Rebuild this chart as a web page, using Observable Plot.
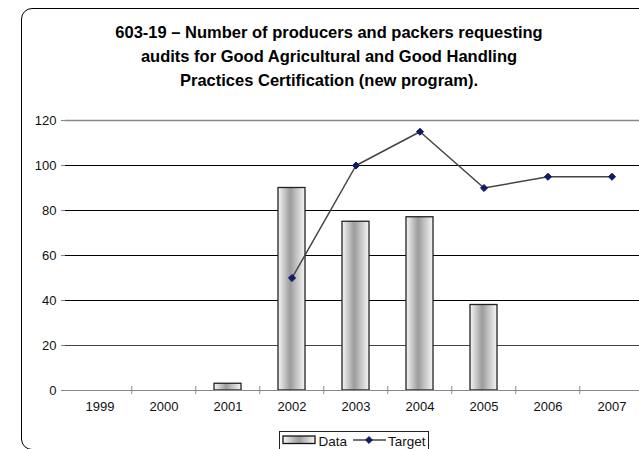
<!DOCTYPE html>
<html>
<head>
<meta charset="utf-8">
<script src="https://cdn.jsdelivr.net/npm/d3@7"></script>
<script src="https://cdn.jsdelivr.net/npm/@observablehq/plot@0.6"></script>
<style>
  html, body { margin: 0; padding: 0; background: #fff; }
  #wrap { position: relative; width: 639px; height: 449px; overflow: hidden; font-family: "Liberation Sans", Arial, sans-serif; }
  #frame { position: absolute; left: 21px; top: 8px; width: 640px; height: 442px; border: 1.5px solid #000; border-radius: 11px; box-sizing: border-box; }
  #title { position: absolute; left: 22px; width: 614px; top: 20px; text-align: center; font-weight: bold; font-size: 16.5px; line-height: 24px; color: #000; }
  #chart { position: absolute; left: 0; top: 0; }
  #chart svg text { font-size: 13px; font-family: "Liberation Sans", Arial, sans-serif; fill: #111; }
  #legend { position: absolute; left: 279px; top: 431px; width: 150px; height: 24px; border: 1px solid #222; box-sizing: border-box; background: #fff; }
  #legend text { font-size: 13.5px; font-family: "Liberation Sans", Arial, sans-serif; fill: #111; }
</style>
</head>
<body>
<div id="wrap">
  <div id="frame"></div>
  <div id="chart"></div>
  <div id="title">603-19 – Number of producers and packers requesting<br>audits for Good Agricultural and Good Handling<br>Practices Certification (new program).</div>
  <div id="legend"></div>
</div>
<script>
const years = ["1999", "2000", "2001", "2002", "2003", "2004", "2005", "2006", "2007"];
const dataYears = ["2001", "2002", "2003", "2004", "2005"];
const dataValues = [3, 90, 75, 77, 38];
const targetYears = ["2002", "2003", "2004", "2005", "2006", "2007"];
const targetValues = [50, 100, 115, 90, 95, 95];
const yTicks = [0, 20, 40, 60, 80, 100, 120];
const gridTicks = [20, 40, 60, 80, 100, 120];
const boundaryYears = ["2000", "2001", "2002", "2003", "2004", "2005", "2006", "2007"];

const bars = dataYears.map((y, i) => ({year: y, value: dataValues[i]}));
const targets = targetYears.map((y, i) => ({year: y, value: targetValues[i]}));

const W = 639, H = 449;
const xRange = [65, 645.5];
const bandStep = (xRange[1] - xRange[0]) / years.length;

const chart = Plot.plot({
  width: W,
  height: H,
  marginLeft: 65,
  marginRight: 0,
  marginTop: 120,
  marginBottom: 59,
  style: {fontFamily: "'Liberation Sans', Arial, sans-serif", fontSize: "13px", color: "#111", background: "transparent"},
  x: {domain: years, range: xRange, paddingInner: 0.58, paddingOuter: 0.29, align: 0.5},
  y: {domain: [0, 120], ticks: yTicks},
  marks: [
    Plot.ruleY(gridTicks, {stroke: d => d === 120 ? "#888" : d === 20 ? "#444" : "#000", strokeWidth: d => d === 120 ? 1.5 : 1.2}),
    Plot.barY(bars, {x: "year", y: "value", fill: "url(#barGrad)", stroke: "#222", strokeWidth: 1.3}),
    Plot.ruleY([0], {stroke: "#888", strokeWidth: 1.2}),
    Plot.ruleX(boundaryYears, {x: d => d, y1: 0, y2: 0, dx: -bandStep / 2, insetTop: -4, insetBottom: -4, stroke: "#888", strokeWidth: 1}),
    Plot.axisY({ticks: yTicks, tickSize: 4, tickPadding: 5, stroke: "#888", label: null, line: true}),
    Plot.axisX({tickSize: 0, tickPadding: 11, label: null}),
    Plot.line(targets, {x: "year", y: "value", stroke: "#444", strokeWidth: 1.5}),
    Plot.dot(targets, {x: "year", y: "value", symbol: "diamond2", r: 3.2, fill: "#0a1a7a", stroke: "#1a1a40", strokeWidth: 1})
  ]
});

const defs = d3.select(chart).insert("defs", ":first-child");
const g = defs.append("linearGradient").attr("id", "barGrad").attr("x1", "0").attr("x2", "1").attr("y1", "0").attr("y2", "0");
g.append("stop").attr("offset", "0").attr("stop-color", "#f6f6f6");
g.append("stop").attr("offset", "0.45").attr("stop-color", "#9c9c9c");
g.append("stop").attr("offset", "1").attr("stop-color", "#f6f6f6");

document.getElementById("chart").appendChild(chart);

// legend
const lg = d3.select("#legend").append("svg").attr("width", 150).attr("height", 24);
const lgDefs = lg.append("defs").append("linearGradient").attr("id", "legGrad").attr("x1", "0").attr("x2", "1");
lgDefs.append("stop").attr("offset", "0").attr("stop-color", "#f6f6f6");
lgDefs.append("stop").attr("offset", "0.5").attr("stop-color", "#9c9c9c");
lgDefs.append("stop").attr("offset", "1").attr("stop-color", "#f6f6f6");
lg.append("rect").attr("x", 3).attr("y", 4).attr("width", 32).attr("height", 7.5).attr("fill", "url(#legGrad)").attr("stroke", "#111").attr("stroke-width", 1.3);
lg.append("text").attr("x", 38.5).attr("y", 13.5).text("Data");
lg.append("line").attr("x1", 73).attr("x2", 106).attr("y1", 8).attr("y2", 8).attr("stroke", "#444").attr("stroke-width", 1.5);
lg.append("path").attr("d", d3.symbol(d3.symbolDiamond2, 30)()).attr("transform", "translate(89,8)").attr("fill", "#0a1a7a").attr("stroke", "#1a1a40");
lg.append("text").attr("x", 108).attr("y", 13.5).text("Target");
</script>
</body>
</html>
